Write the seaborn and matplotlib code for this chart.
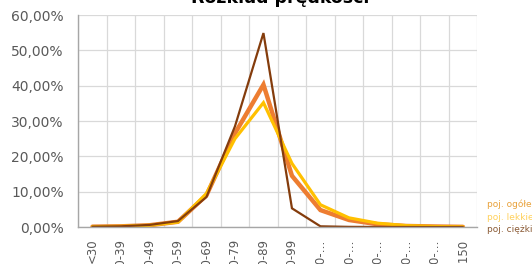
import pandas as pd
import matplotlib
matplotlib.use('Agg')
import matplotlib.pyplot as plt
import seaborn as sns
from matplotlib.ticker import FuncFormatter, MultipleLocator

# speed bins (Excel truncated the long ones)
bins = ['<30', '30-39', '40-49', '50-59', '60-69', '70-79', '80-89', '90-99',
        '100-…', '110-…', '120-…', '130-…', '140-…', '>150']

# share of vehicles in each bin, %
ogolem = [0.1, 0.2, 0.5, 1.5, 9.0, 26.5, 40.3, 14.5, 4.8, 2.0, 0.8, 0.3, 0.15, 0.05]
lekkie = [0.1, 0.2, 0.5, 1.4, 9.5, 25.0, 35.2, 18.0, 6.3, 2.6, 1.1, 0.4, 0.15, 0.05]
ciezkie = [0.1, 0.2, 0.6, 1.7, 8.5, 28.5, 54.9, 5.3, 0.2, 0.05, 0.02, 0.01, 0.0, 0.0]

series = ['poj. ogółem', 'poj. lekkie', 'poj. ciężkie']
colors = ['#ED7D31', '#FFC000', '#843C0C']
widths = [3.2, 2.3, 1.6]
text_colors = ['#E9A23B', '#FFD15C', '#8A5A35']

df = pd.DataFrame({'bin': bins * 3,
                   'pos': list(range(len(bins))) * 3,
                   'share': ogolem + lekkie + ciezkie,
                   'series': [s for s in series for _ in bins]})

sns.set_style('white')
plt.rcParams['font.family'] = ['DejaVu Sans']

fig = plt.figure(figsize=(5.32, 2.64), dpi=100)
ax = fig.add_axes([0.147, 0.14, 0.75, 0.803])

for s, c, w in zip(series, colors, widths):
    sns.lineplot(data=df[df['series'] == s], x='pos', y='share', color=c,
                 linewidth=w, ax=ax, label=s, solid_joinstyle='miter')

ax.set_xlim(-0.5, len(bins) - 0.5)
ax.set_ylim(0, 60)
ax.yaxis.set_major_locator(MultipleLocator(10))
ax.yaxis.set_major_formatter(FuncFormatter(lambda v, p: f'{v:.2f}%'.replace('.', ',')))
ax.set_xticks(range(len(bins)))
ax.set_xticklabels(bins, rotation=90)
ax.set_xticks([i - 0.5 for i in range(len(bins) + 1)], minor=True)

ax.grid(axis='y', which='major', color='#D9D9D9', linewidth=0.9)
ax.grid(axis='x', which='minor', color='#D9D9D9', linewidth=0.9)
ax.set_axisbelow(True)
ax.set_xlabel('')
ax.set_ylabel('')

for side in ['top', 'right']:
    ax.spines[side].set_visible(False)
for side in ['left', 'bottom']:
    ax.spines[side].set_color('#A6A6A6')
    ax.spines[side].set_linewidth(1.0)

ax.tick_params(axis='y', which='major', left=False, labelsize=10,
               labelcolor='#595959', pad=7)
ax.tick_params(axis='x', which='major', bottom=False, labelsize=8.5,
               labelcolor='#595959', pad=5)
ax.tick_params(axis='x', which='minor', bottom=False)

leg = ax.legend(loc='upper left', bbox_to_anchor=(1.025, 0.13), frameon=False,
                handlelength=0, handletextpad=0, fontsize=6.5, labelspacing=0.4,
                borderaxespad=0, borderpad=0)
for h in leg.legend_handles:
    h.set_visible(False)
for t, c in zip(leg.get_texts(), text_colors):
    t.set_color(c)

fig.text(0.526, 0.99, 'Rozkład prędkości', ha='center', va='baseline',
         fontsize=12.5, fontweight='bold', color='black')

fig.savefig('out.png', dpi=100)
